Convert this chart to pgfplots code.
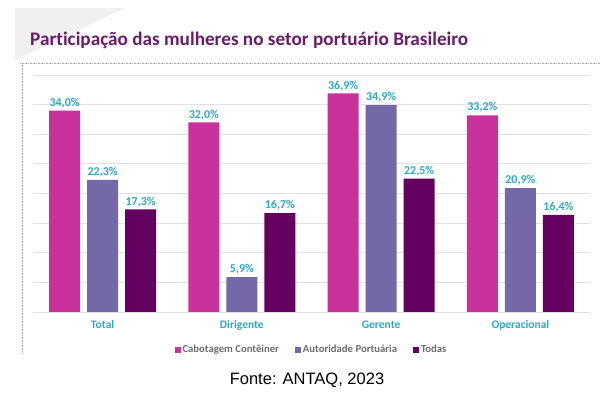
\documentclass[border=0pt]{standalone}
\usepackage{pgfplots}
\pgfplotsset{compat=1.18}
\usepackage{fontspec}
\setmainfont{Carlito}[Ligatures=NoCommon]
\newfontfamily\arialf{Liberation Sans}
\definecolor{cpink}{HTML}{C8329A}
\definecolor{cpurp}{HTML}{7468A8}
\definecolor{cdark}{HTML}{650060}
\definecolor{cteal}{HTML}{2EA8C8}
\definecolor{ctitle}{HTML}{6A1B6E}
\definecolor{cgrid}{HTML}{E2E2E2}
\definecolor{clegend}{HTML}{6E6E6E}
\begin{document}
\begin{tikzpicture}[x=1pt,y=1pt]
\fill[white] (0,0) rectangle (607,398);
\fill[black!6] (15,390) -- (125,390) -- (15,338) -- cycle;
\draw[black!35, densely dotted, line width=0.6pt] (20,335) -- (600,335);
\draw[black!35, densely dotted, line width=0.6pt] (22,335) -- (22,45);
\node[anchor=west, font=\bfseries\fontsize{19.2}{22}\selectfont, text=ctitle, inner sep=0] at (30,358) {Participação das mulheres no setor portuário Brasileiro};
\begin{axis}[
  at={(33pt,86pt)}, anchor=south west,
  scale only axis, width=557pt, height=237pt,
  xmin=-0.5, xmax=3.5, ymin=0, ymax=40,
  ybar=7pt, bar width=31pt,
  ytick={0,5,...,40}, yticklabels={},
  ymajorgrids, grid style={cgrid, line width=0.8pt},
  axis line style={draw=none},
  major tick length=0pt,
  xtick={0,1,2,3},
  xticklabels={Total,Dirigente,Gerente,Operacional},
  xticklabel style={font=\bfseries\fontsize{11.5}{13}\selectfont, text=cteal, yshift=-5pt},
  /pgf/number format/assume math mode=true,
  nodes near coords={\pgfmathprintnumber[fixed,fixed zerofill,precision=1,use comma]{\pgfplotspointmeta}\%},
  every node near coord/.append style={font=\bfseries\fontsize{12}{13}\selectfont, text=cteal, inner sep=2.5pt},
  legend style={at={(0.5,-0.16)}, anchor=center, draw=none, fill=none, legend columns=3,
    font=\bfseries\fontsize{10.7}{12}\selectfont, text=clegend,
    /tikz/every even column/.append style={column sep=14pt}},
  legend image code/.code={\fill[#1] (0pt,-3pt) rectangle (6pt,3pt);},
]
\addplot[draw=none, fill=cpink] coordinates {(0,34.0) (1,32.0) (2,36.9) (3,33.2)};
\addplot[draw=none, fill=cpurp] coordinates {(0,22.3) (1,5.9) (2,34.9) (3,20.9)};
\addplot[draw=none, fill=cdark] coordinates {(0,17.3) (1,16.7) (2,22.5) (3,16.4)};
\draw[black!30, line width=0.8pt] (axis cs:-0.5,0) -- (axis cs:3.5,0);
\legend{Cabotagem Contêiner, Autoridade Portuária, Todas}
\end{axis}
\node[font=\arialf\fontsize{16.5}{18}\selectfont, inner sep=0] at (307,18) {Fonte: ANTAQ, 2023};
\end{tikzpicture}
\end{document}
